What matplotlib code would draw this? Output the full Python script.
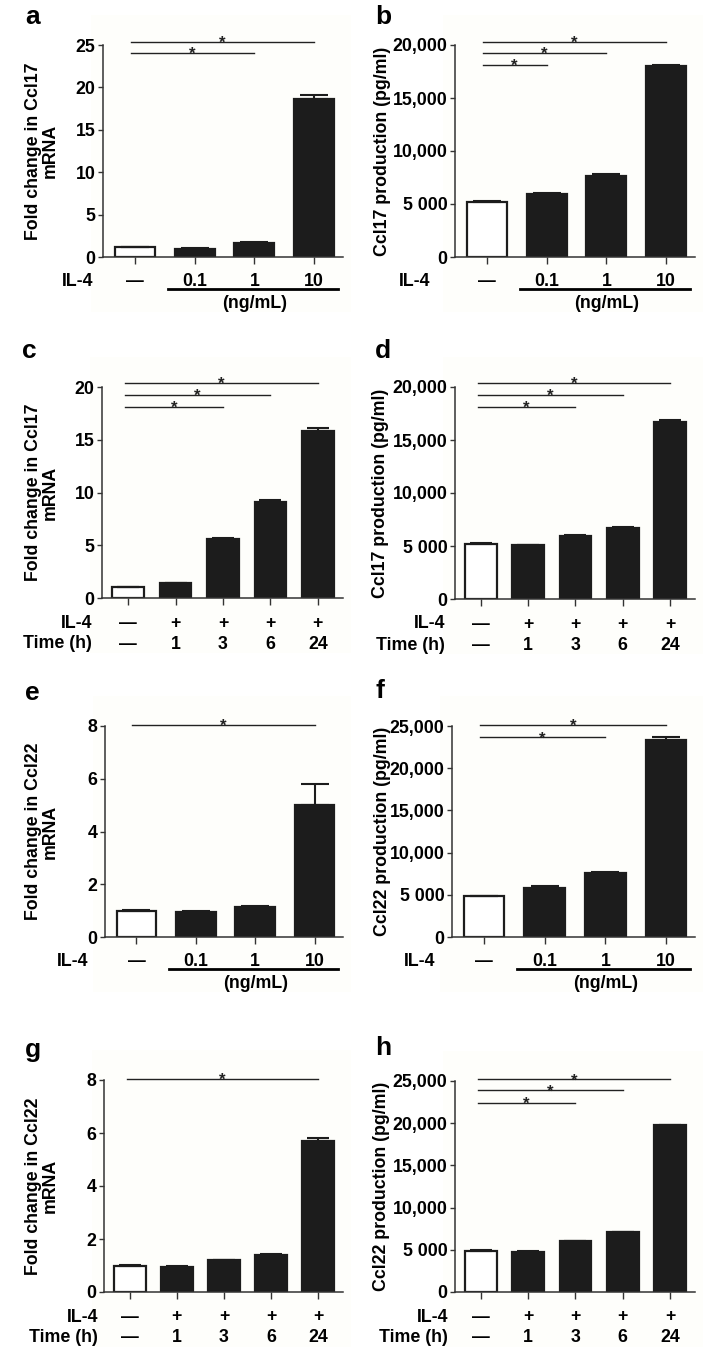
import matplotlib
matplotlib.use("Agg")
import matplotlib.pyplot as plt
from matplotlib.patches import Rectangle
import matplotlib.transforms as mtrans

# ---------------- data ----------------
dose_labels = ["—", "0.1", "1", "10"]
time_il4_labels = ["—", "+", "+", "+", "+"]
time_h_labels = ["—", "1", "3", "6", "24"]

a_vals = [1.15, 1.0, 1.6, 18.6]
a_err = [0.05, 0.03, 0.12, 0.45]
b_vals = [5200, 5900, 7650, 18000]
b_err = [100, 100, 150, 80]
c_vals = [1.0, 1.4, 5.6, 9.1, 15.8]
c_err = [0.05, 0.05, 0.08, 0.2, 0.3]
d_vals = [5150, 5050, 5950, 6700, 16700]
d_err = [100, 40, 130, 100, 180]
e_vals = [1.0, 0.95, 1.15, 5.0]
e_err = [0.02, 0.03, 0.03, 0.8]
f_vals = [4800, 5850, 7600, 23300]
f_err = [80, 200, 100, 400]
g_vals = [1.0, 0.95, 1.2, 1.4, 5.7]
g_err = [0.02, 0.02, 0.02, 0.02, 0.1]
h_vals = [4850, 4750, 6000, 7050, 19750]
h_err = [80, 80, 100, 50, 50]

# significance brackets: (target index, height)
a_sig = [(3, 25.35), (2, 24.05)]
b_sig = [(3, 20300), (2, 19250), (1, 18100)]
c_sig = [(4, 20.4), (3, 19.25), (2, 18.1)]
d_sig = [(4, 20400), (3, 19250), (2, 18100)]
e_sig = [(3, 8.03)]
f_sig = [(3, 25100), (2, 23650)]
g_sig = [(4, 8.05)]
h_sig = [(4, 25200), (3, 23900), (2, 22450)]

mrna_ticks_a = [0, 5, 10, 15, 20, 25]
mrna_ticks_c = [0, 5, 10, 15, 20]
mrna_ticks_e = [0, 2, 4, 6, 8]
prot_ticks_20 = [0, 5000, 10000, 15000, 20000]
prot_ticks_25 = [0, 5000, 10000, 15000, 20000, 25000]
prot_labels_20 = ["0", "5 000", "10,000", "15,000", "20,000"]
prot_labels_25 = ["0", "5 000", "10,000", "15,000", "20,000", "25,000"]

# ---------------- layout ----------------
W, H = 710, 1364
fig = plt.figure(figsize=(W / 100, H / 100), dpi=100)
fig.patch.set_facecolor("white")
FONT = "Liberation Sans"
plt.rcParams["font.family"] = [FONT, "DejaVu Sans"]
plt.rcParams["font.weight"] = "bold"
FS = 12.8
FSL = 12.8
DARK = "#1c1c1c"
SPINE = "#333333"


def fx(x):
    return x / W


def fy(y):
    return 1 - y / H


def background(x0, y0, x1, y1):
    fig.patches.append(Rectangle((fx(x0), fy(y1)), fx(x1) - fx(x0), fy(y0) - fy(y1),
                                 transform=fig.transFigure, facecolor="#fefefb",
                                 edgecolor="none", zorder=-10))


def panel(letter, letter_xy, box, vals, errs, ymax, yticks, yticklabels,
          ylabel, ylabel_x, sig, rows, row_right, dose=False):
    left, top, right, bottom = box
    background(left - 12, top - 30, right + 8, bottom + 55)
    ax = fig.add_axes([fx(left), fy(bottom), fx(right) - fx(left), fy(top) - fy(bottom)])
    ax.set_facecolor("none")
    n = len(vals)
    xs = list(range(n))
    colors = ["white"] + [DARK] * (n - 1)
    ax.bar(xs, vals, width=0.67, color=colors, edgecolor=DARK, linewidth=1.6, zorder=2)
    cap = 10 if n == 4 else 8
    ax.errorbar(xs, vals, yerr=[[0] * n, errs], fmt="none", ecolor=DARK,
                elinewidth=1.5, capsize=cap, capthick=1.5, zorder=3)
    ax.set_xlim(-0.53 if n == 4 else -0.55, n - 0.52 if n == 4 else n - 0.47)
    ax.set_ylim(0, ymax)
    for s in ["top", "right"]:
        ax.spines[s].set_visible(False)
    for s in ["left", "bottom"]:
        ax.spines[s].set_color(SPINE)
        ax.spines[s].set_linewidth(1.1)
    ax.set_yticks(yticks)
    ax.set_yticklabels(yticklabels, fontsize=FS, fontweight="bold", family=FONT)
    ax.set_xticks(xs)
    ax.set_xticklabels([])
    ax.tick_params(axis="y", direction="out", length=3.5, width=1.0, color=SPINE, pad=2)
    ax.tick_params(axis="x", direction="out", length=5, width=1.0, color=SPINE)

    # significance lines
    for idx, yv in sig:
        ax.plot([-0.07, idx], [yv, yv], color="#222222", lw=1.0, clip_on=False, zorder=4)
        tr = mtrans.offset_copy(ax.transData, fig=fig, x=0, y=-6, units="dots")
        ax.text((idx - 0.07) / 2, yv, "*", ha="center", va="baseline", fontsize=12,
                fontweight="bold", color="#222222", transform=tr, clip_on=False)

    # row labels below axis
    xt = ax.get_xaxis_transform()
    for r, (name, labels) in enumerate(rows):
        off = -(25 + 21 * r)
        tr = mtrans.offset_copy(xt, fig=fig, x=0, y=off, units="dots")
        for i, lab in enumerate(labels):
            ax.text(i, 0, lab, ha="center", va="center", fontsize=FS, fontweight="bold",
                    transform=tr, clip_on=False)
        fig.text(fx(row_right), fy(bottom - off), name, ha="right", va="center",
                 fontsize=FS, fontweight="bold")
    if dose:
        tr = mtrans.offset_copy(xt, fig=fig, x=0, y=-32, units="dots")
        ax.plot([0.55, n - 0.6], [0, 0], color="black", lw=2.0, transform=tr, clip_on=False)
        tr2 = mtrans.offset_copy(xt, fig=fig, x=0, y=-46, units="dots")
        ax.text(2.0, 0, "(ng/mL)", ha="center", va="center", fontsize=FS,
                fontweight="bold", transform=tr2, clip_on=False)

    fig.text(fx(ylabel_x), fy((top + bottom) / 2), ylabel, rotation=90, ha="center",
             va="center", fontsize=FSL, fontweight="bold", linespacing=1.0,
             multialignment="center")
    fig.text(fx(letter_xy[0]), fy(letter_xy[1]), letter, ha="left", va="baseline",
             fontsize=19, fontweight="bold", family="Liberation Sans")
    return ax


dose_rows = [("IL-4", dose_labels)]
time_rows = [("IL-4", time_il4_labels), ("Time (h)", time_h_labels)]

panel("a", (25, 24), (103, 45, 343, 257), a_vals, a_err, 25, mrna_ticks_a,
      [str(t) for t in mrna_ticks_a], "Fold change in Ccl17\nmRNA", 42, a_sig,
      dose_rows, 93, dose=True)
panel("b", (375, 24), (455, 45, 695, 257), b_vals, b_err, 20000, prot_ticks_20,
      prot_labels_20, "Ccl17 production (pg/ml)", 383, b_sig, dose_rows, 430, dose=True)
panel("c", (22, 358), (102, 387, 343, 598), c_vals, c_err, 20, mrna_ticks_c,
      [str(t) for t in mrna_ticks_c], "Fold change in Ccl17\nmRNA", 42, c_sig,
      time_rows, 92)
panel("d", (375, 358), (455, 387, 695, 599), d_vals, d_err, 20000, prot_ticks_20,
      prot_labels_20, "Ccl17 production (pg/ml)", 381, d_sig, time_rows, 445)
panel("e", (25, 700), (105, 726, 343, 937), e_vals, e_err, 8, mrna_ticks_e,
      [str(t) for t in mrna_ticks_e], "Fold change in Ccl22\nmRNA", 42, e_sig,
      dose_rows, 88, dose=True)
panel("f", (375, 698), (452, 726, 695, 937), f_vals, f_err, 25000, prot_ticks_25,
      prot_labels_25, "Ccl22 production (pg/ml)", 383, f_sig, dose_rows, 435, dose=True)
panel("g", (25, 1057), (104, 1080, 343, 1292), g_vals, g_err, 8, mrna_ticks_e,
      [str(t) for t in mrna_ticks_e], "Fold change in Ccl22\nmRNA", 42, g_sig,
      time_rows, 98)
panel("h", (375, 1055), (455, 1081, 695, 1292), h_vals, h_err, 25000, prot_ticks_25,
      prot_labels_25, "Ccl22 production (pg/ml)", 382, h_sig, time_rows, 448)

fig.savefig("out.png", dpi=100, facecolor="white")
